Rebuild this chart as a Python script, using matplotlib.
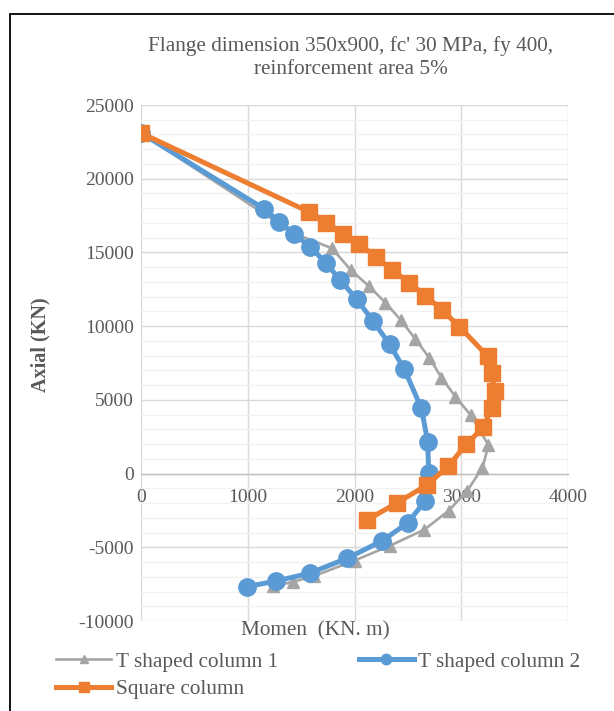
import matplotlib
matplotlib.use("Agg")
import matplotlib.pyplot as plt
from matplotlib.patches import Rectangle
from matplotlib.ticker import MultipleLocator

plt.rcParams['font.family'] = ['Liberation Serif', 'DejaVu Serif']
plt.rcParams['axes.unicode_minus'] = False

# Data (Moment kN.m, Axial kN)
t1_moment = [0, 1430, 1789, 1965, 2134, 2289, 2434, 2566, 2702, 2814, 2946, 3091,
             3255, 3199, 3058, 2883, 2655, 2336, 2000, 1620, 1420, 1240]
t1_axial = [23100, 16300, 15280, 13810, 12720, 11600, 10410, 9160, 7840, 6510, 5210, 3940,
            1930, 410, -1150, -2510, -3800, -4880, -5900, -6950, -7350, -7650]

t2_moment = [0, 1154, 1295, 1431, 1585, 1730, 1867, 2021, 2174, 2329, 2467, 2627,
             2686, 2695, 2661, 2498, 2258, 1930, 1579, 1266, 992]
t2_axial = [23100, 17950, 17070, 16255, 15390, 14290, 13130, 11810, 10350, 8760, 7080, 4420,
            2160, 40, -1860, -3350, -4570, -5750, -6760, -7290, -7670]

sq_moment = [0, 1576, 1735, 1890, 2045, 2200, 2355, 2514, 2664, 2819, 2983, 3246,
             3284, 3312, 3284, 3208, 3049, 2880, 2680, 2398, 2117]
sq_axial = [23100, 17740, 17030, 16280, 15540, 14720, 13790, 12950, 12060, 11110, 9960, 7970,
            6810, 5590, 4440, 3150, 2000, 520, -770, -1990, -3150]

title = "Flange dimension 350x900, fc' 30 MPa, fy 400,\nreinforcement area 5%"
series_labels = ["T shaped column 1", "T shaped column 2", "Square column"]
x_label = "Momen  (KN. m)"
y_label = "Axial (KN)"

W, H = 614, 711
fig = plt.figure(figsize=(W / 100, H / 100), dpi=100)
ax = fig.add_axes([141 / W, 1 - 621 / H, (568 - 141) / W, (621 - 105) / H])

txt = '#595959'
l1, = ax.plot(t1_moment, t1_axial, color='#A5A5A5', lw=1.9, marker='^', ms=9,
              label=series_labels[0], zorder=3)
l2, = ax.plot(t2_moment, t2_axial, color='#5B9BD5', lw=3.6, marker='o', ms=12.5,
              label=series_labels[1], zorder=4)
l3, = ax.plot(sq_moment, sq_axial, color='#ED7D31', lw=3.6, marker='s', ms=12,
              label=series_labels[2], zorder=5)

ax.set_xlim(0, 4000)
ax.set_ylim(-10000, 25000)
ax.xaxis.set_major_locator(MultipleLocator(1000))
ax.yaxis.set_major_locator(MultipleLocator(5000))
ax.yaxis.set_minor_locator(MultipleLocator(1000))
ax.grid(True, which='major', color='#d9d9d9', lw=1.0, zorder=0)
ax.grid(True, which='minor', axis='y', color='#f2f2f2', lw=1.0, zorder=0)
ax.set_axisbelow(True)

for s in ['top', 'right', 'left']:
    ax.spines[s].set_visible(False)
ax.spines['bottom'].set_position(('data', 0))
ax.spines['bottom'].set_color('#bfbfbf')
ax.spines['bottom'].set_linewidth(1.0)

ax.tick_params(axis='both', which='both', length=0, labelsize=14, labelcolor=txt)
ax.tick_params(axis='x', pad=11)
ax.tick_params(axis='y', pad=5)

fig.text(351 / W, 1 - 57.5 / H, title, ha='center', va='center', fontsize=15.3,
         color=txt, linespacing=1.25)
fig.text(40 / W, 1 - 345 / H, y_label, rotation=90, ha='center', va='center',
         fontsize=14.5, fontweight='bold', color=txt)
fig.text(315 / W, 1 - 631 / H, x_label, ha='center', va='center', fontsize=15.3, color=txt)

leg = fig.legend([l1, l3, l2], [series_labels[0], series_labels[2], series_labels[1]],
                 loc='upper left', bbox_to_anchor=(56 / W, 1 - 652 / H), ncol=2,
                 frameon=False, fontsize=15.3, handlelength=2.6, handletextpad=0.2,
                 columnspacing=3.8, labelspacing=0.35, borderpad=0, borderaxespad=0,
                 markerscale=0.6)
for t in leg.get_texts():
    t.set_color(txt)

fig.patches.append(Rectangle((9.5 / W, -0.1), 1.2, 1.1 - 13.5 / H,
                             transform=fig.transFigure, fill=False,
                             edgecolor='black', lw=1.3))

fig.savefig('out.png', dpi=100)
